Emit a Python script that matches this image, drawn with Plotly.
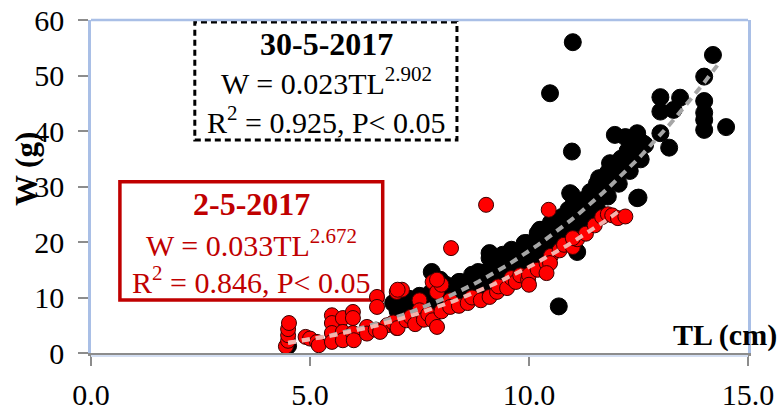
import numpy as np
import plotly.graph_objects as go

# 30-5-2017 sample: total length (cm) and weight (g)
tl_may30 = [4.5, 6.95, 7.0, 7.1, 7.2, 7.3, 7.4, 7.5, 7.6, 7.7, 7.78, 7.97, 7.8, 7.9, 8.0,
            8.1, 8.2, 8.3, 8.43, 8.5, 8.6, 8.7, 8.84, 8.9, 9.0, 9.1, 9.1, 9.2, 9.3, 9.4,
            9.5, 9.57, 9.6, 9.7, 9.8, 9.95, 10.0, 10.1, 10.2, 10.25, 10.3, 10.4, 10.5, 10.6,
            10.7, 10.68, 10.8, 10.9, 10.94, 10.98, 11.0, 10.48, 11.0, 11.1, 11.1, 11.2, 11.3,
            11.4, 11.5, 11.55, 11.6, 11.7, 11.8, 11.85, 11.9, 11.96, 12.0, 12.1, 12.2, 12.24,
            12.3, 12.4, 12.47, 12.5, 12.5, 12.6, 13.0, 13.45, 13.0, 13.3, 13.0, 13.2, 14.0,
            14.2, 14.0, 14.0, 14.0, 14.0, 14.5,
            6.9, 7.3, 7.5, 7.8, 8.1, 8.4, 8.7, 8.95, 9.1, 9.4, 9.6, 9.9, 10.2, 10.3, 10.55,
            10.75, 10.9, 11.15, 11.4, 10.98, 12.47,
            7.0, 7.05, 7.15, 7.25, 7.3, 7.4, 7.5, 7.55, 7.65, 7.75, 7.8, 7.9, 8.0, 8.05, 8.15,
            8.25, 8.3, 8.4, 8.5, 8.55, 8.65, 8.75, 8.8, 8.9, 9.0, 9.05, 9.15, 9.25, 9.3, 9.4,
            9.5, 9.55, 9.65, 9.75, 9.8, 9.9, 10.0, 10.05, 10.15, 10.25, 10.3, 10.4, 10.5, 10.55,
            10.65, 10.75, 10.8, 10.9, 11.0, 11.05, 11.15, 11.25, 11.3, 11.4, 11.5, 11.55, 11.65,
            11.75, 11.8, 11.9, 12.0, 12.05, 12.15, 12.25, 12.3, 12.4, 12.5, 12.55, 12.65]
w_may30 = [1.3, 9.2, 8.2, 7.5, 8.8, 7.0, 8.0, 7.4, 8.6, 9.3, 14.6, 13.2, 8.2, 9.8, 10.5,
           11.7, 10.0, 11.3, 12.8, 11.0, 12.0, 13.4, 14.6, 12.5, 13.8, 18.0, 15.0, 14.0, 16.0, 15.2,
           17.0, 18.2, 16.0, 17.5, 16.6, 19.8, 18.5, 17.0, 21.6, 22.2, 19.5, 20.6, 23.5, 21.5,
           24.0, 8.4, 22.5, 25.0, 28.8, 36.3, 56.0, 46.8, 26.5, 18.2, 24.5, 27.5, 26.0,
           29.0, 27.8, 30.5, 31.5, 29.5, 32.5, 34.2, 31.0, 39.3, 33.5, 35.0, 38.9, 35.3,
           34.0, 36.5, 39.6, 28.0, 38.0, 37.8, 46.1, 46.0, 43.5, 43.8, 39.6, 37.0, 49.8,
           53.7, 45.4, 43.3, 42.0, 40.2, 40.7,
           9.0, 9.5, 10.1, 11.0, 12.3, 12.8, 14.1, 14.4, 17.1, 17.7, 18.6, 19.8, 20.9, 22.2, 23.4,
           24.5, 25.8, 26.7, 27.6, 28.5, 27.9,
           7.6, 9.4, 8.4, 9.8, 7.4, 8.9, 10.3, 7.9, 9.3, 10.8, 8.4, 9.9, 11.3, 8.8, 10.4,
           12.0, 9.5, 11.0, 12.6, 10.0, 11.7, 13.3, 10.8, 12.4, 14.2, 11.6, 13.3, 15.2, 12.6, 14.3,
           16.1, 13.6, 15.3, 17.2, 14.6, 16.4, 18.6, 15.9, 17.8, 20.1, 17.2, 19.3, 21.6, 18.7,
           20.9, 23.3, 20.4, 22.6, 25.1, 22.2, 24.6, 27.2, 24.1, 26.6, 29.3, 26.1, 28.8,
           31.6, 28.2, 31.1, 34.0, 30.5, 33.4, 36.4, 32.8, 35.7, 38.4, 34.9, 37.5]

# 2-5-2017 sample
tl_may02 = [4.45, 4.5, 4.5, 4.5, 4.52, 4.9, 5.0, 5.16, 5.2, 5.5, 5.5, 5.5, 5.5, 5.75, 5.75,
            5.75, 5.98, 5.98, 5.98, 6.0, 6.3, 6.3, 6.53, 6.53, 6.5, 6.76, 6.6, 6.98, 6.98,
            6.9, 7.0, 7.1, 7.2, 7.3, 7.4, 7.5, 7.5, 7.6, 7.7, 7.8, 7.8, 7.9, 7.9, 8.0, 8.0,
            8.2, 8.2, 8.22, 8.4, 8.6, 8.7, 8.9, 9.02, 9.1, 9.27, 9.3, 9.5, 9.6, 9.7, 9.8,
            9.98, 10.0, 10.0, 10.2, 10.4, 10.45, 10.5, 10.7, 10.8, 11.0, 11.1, 11.3, 11.5,
            11.67, 11.8, 11.9, 12.03, 12.2, 10.48, 10.4, 11.0, 7.0, 7.9]
w_may02 = [1.2, 2.2, 3.2, 4.3, 5.4, 2.9, 2.6, 2.0, 1.4, 6.8, 5.4, 3.6, 2.0, 6.3, 3.8,
           2.3, 7.4, 6.3, 3.6, 2.3, 4.7, 3.5, 10.1, 8.3, 4.2, 5.0, 3.8, 11.0, 4.5,
           5.5, 4.5, 11.4, 5.9, 6.5, 5.2, 9.5, 7.7, 6.0, 7.0, 12.8, 5.9, 4.7, 11.0, 12.3, 7.5,
           9.5, 8.3, 18.9, 8.5, 9.0, 10.0, 9.5, 26.7, 10.1, 11.0, 12.0, 11.7, 13.5, 12.8, 14.0,
           13.2, 14.1, 12.3, 15.0, 16.2, 25.8, 17.5, 18.5, 19.5, 19.1, 20.5, 21.5, 23.0,
           24.5, 25.0, 24.8, 24.3, 24.6, 16.2, 14.4, 20.7, 11.4, 13.2]

# Power-law fits W = a * TL^b
fit_may30 = dict(a=0.023, b=2.902, r2=0.925, tl_min=4.5, tl_max=14.3)
fit_may02 = dict(a=0.033, b=2.672, r2=0.846, tl_min=4.5, tl_max=12.1)

x_ticks = [0, 5, 10, 15]
x_tick_text = ["0.0", "5.0", "10.0", "15.0"]
y_ticks = [0, 10, 20, 30, 40, 50, 60]

SERIF = "Liberation Serif, Times New Roman, serif"
DARK_RED = "#C00000"
FRAME = "#A9BFE6"

fig = go.Figure()

fig.add_trace(go.Scatter(
    x=tl_may30, y=w_may30, mode="markers", name="30-5-2017",
    marker=dict(size=17, color="#000000", line=dict(color="#000000", width=1)),
))
fig.add_trace(go.Scatter(
    x=tl_may02, y=w_may02, mode="markers", name="2-5-2017",
    marker=dict(size=15, color="#FF0000", line=dict(color="#3a0000", width=1)),
))

for fit, colour in ((fit_may30, "#A6A6A6"), (fit_may02, "#F4B4AE")):
    xs = np.linspace(fit["tl_min"], fit["tl_max"], 80)
    fig.add_trace(go.Scatter(
        x=xs, y=fit["a"] * xs ** fit["b"], mode="lines",
        line=dict(color=colour, width=4, dash="8px,6px"),
        hoverinfo="skip",
    ))

# Equation boxes
fig.add_shape(type="rect", xref="x domain", yref="y domain",
              x0=0.158, x1=0.557, y0=0.640, y1=0.994,
              line=dict(color="#000000", width=3, dash="6px,4px"), layer="above")
fig.add_shape(type="rect", xref="x domain", yref="y domain",
              x0=0.044, x1=0.444, y0=0.159, y1=0.514,
              line=dict(color=DARK_RED, width=3.5), fillcolor="white", layer="below")

# top border of the plot area and the pale line under the x axis
fig.add_shape(type="line", xref="x domain", yref="y domain",
              x0=0, x1=1, y0=1, y1=1, line=dict(color=FRAME, width=2.5))
fig.add_shape(type="line", xref="x domain", yref="y domain",
              x0=0, x1=1, y0=-0.009, y1=-0.009, line=dict(color="#D3DEF2", width=2))


def box_text(cx, ys, title, fit, colour):
    lines = [
        (f"<b>{title}</b>", 32),
        (f"W = {fit['a']:.3f}TL<sup>{fit['b']:.3f}</sup>", 30),
        (f"R<sup>2</sup> = {fit['r2']:.3f}, P&lt; 0.05", 30),
    ]
    for y, (t, size) in zip(ys, lines):
        fig.add_annotation(xref="x domain", yref="y domain", x=cx, y=y,
                           text=t, showarrow=False, xanchor="center", yanchor="middle",
                           font=dict(family=SERIF, size=size, color=colour))


box_text(0.358, [0.928, 0.818, 0.700], "30-5-2017", fit_may30, "#000000")
box_text(0.244, [0.447, 0.330, 0.219], "2-5-2017", fit_may02, DARK_RED)

# axis titles
fig.add_annotation(xref="paper", yref="paper", x=-0.097, y=0.553,
                   text="<b>W (g)</b>", textangle=-90, showarrow=False,
                   xanchor="center", yanchor="middle",
                   font=dict(family=SERIF, size=31, color="#000000"))
fig.add_annotation(xref="paper", yref="paper", x=1.047, y=0.053,
                   text="<b>TL (cm)</b>", showarrow=False,
                   xanchor="right", yanchor="middle",
                   font=dict(family=SERIF, size=30, color="#000000"))

fig.update_layout(
    width=782, height=419,
    margin=dict(l=91, r=34, t=20, b=66, autoexpand=False),
    paper_bgcolor="white", plot_bgcolor="white",
    showlegend=False,
    font=dict(family=SERIF, size=28, color="#000000"),
    xaxis=dict(range=[0, 15], tickvals=x_ticks, ticktext=x_tick_text, automargin=False,
               showgrid=False, zeroline=False, showline=True, linecolor="#8C8C8C",
               linewidth=2.5, ticks="outside", ticklen=10, tickwidth=2, tickcolor="#8C8C8C",
               ticklabelstandoff=3,
               tickfont=dict(family=SERIF, size=30, color="#000000")),
    yaxis=dict(range=[0, 60], tickvals=y_ticks, automargin=False,
               showgrid=False, zeroline=False, showline=True, linecolor=FRAME,
               linewidth=2.5, mirror=True, ticks="outside", ticklen=10, tickwidth=2,
               tickcolor="#8C8C8C", ticklabelstandoff=8,
               tickfont=dict(family=SERIF, size=30, color="#000000")),
)

fig.write_html("out.html")
